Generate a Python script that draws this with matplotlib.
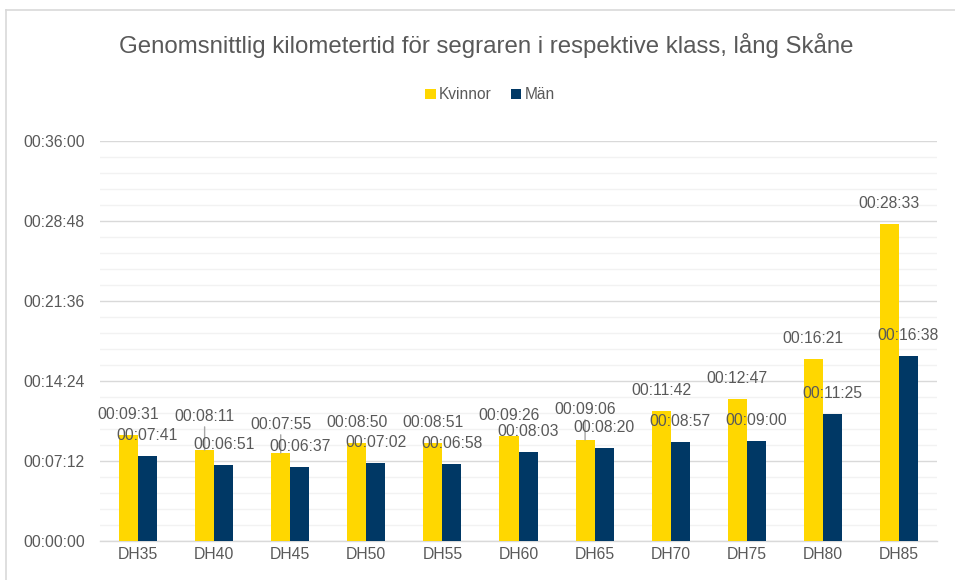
import numpy as np
import matplotlib
matplotlib.use("Agg")
import matplotlib.pyplot as plt
from matplotlib.ticker import MultipleLocator, FuncFormatter
from matplotlib.lines import Line2D

plt.rcParams['font.family'] = ['Liberation Sans', 'DejaVu Sans']

# data (times as mm:ss)
classes = ['DH35', 'DH40', 'DH45', 'DH50', 'DH55', 'DH60',
           'DH65', 'DH70', 'DH75', 'DH80', 'DH85']
kvinnor = ['09:31', '08:11', '07:55', '08:50', '08:51', '09:26',
           '09:06', '11:42', '12:47', '16:21', '28:33']
man = ['07:41', '06:51', '06:37', '07:02', '06:58', '08:03',
       '08:20', '08:57', '09:00', '11:25', '16:38']

# extra lift (px) for labels that were dragged in the original, with leader line
k_lift = [0, 13, 8, 0, 0, 0, 10, 0, 0, 0, 0]


def to_sec(s):
    m, sec = s.split(':')
    return int(m) * 60 + int(sec)


def fmt(v, pos=None):
    v = int(round(v))
    return '%02d:%02d:%02d' % (v // 3600, (v % 3600) // 60, v % 60)


k_sec = np.array([to_sec(s) for s in kvinnor])
m_sec = np.array([to_sec(s) for s in man])

YELLOW = '#FFD700'
NAVY = '#003865'
TXT = '#595959'

fig = plt.figure(figsize=(9.55, 5.8), dpi=100)
ax = fig.add_axes([100 / 955, 39 / 580, 837 / 955, 400 / 580])

x = np.arange(len(classes))
w = 0.25
bk = ax.bar(x - w / 2, k_sec, w, color=YELLOW, label='Kvinnor', zorder=3)
bm = ax.bar(x + w / 2, m_sec, w, color=NAVY, label='Män', zorder=3)

ax.set_xlim(-0.5, len(classes) - 0.5)
ax.set_ylim(0, 2160)
ax.yaxis.set_major_locator(MultipleLocator(432))
ax.yaxis.set_minor_locator(MultipleLocator(86.4))
ax.yaxis.set_major_formatter(FuncFormatter(fmt))
ax.grid(axis='y', which='major', color='#D9D9D9', lw=1.0, zorder=0)
ax.grid(axis='y', which='minor', color='#F2F2F2', lw=1.0, zorder=0)
ax.set_axisbelow(True)

ax.set_xticks(x)
ax.set_xticklabels(classes)
ax.tick_params(axis='both', which='both', length=0, labelsize=11.3, colors=TXT)
ax.tick_params(axis='y', pad=11)
ax.tick_params(axis='x', pad=4)
for sp in ['top', 'right', 'left']:
    ax.spines[sp].set_visible(False)
ax.spines['bottom'].set_color('#D9D9D9')
ax.spines['bottom'].set_linewidth(1.0)

px = 0.72  # points per pixel at 100 dpi
for i in range(len(classes)):
    kw = dict(textcoords='offset points', ha='center', va='center',
              fontsize=11.3, color=TXT, zorder=5)
    if k_lift[i]:
        kw['arrowprops'] = dict(arrowstyle='-', color='#A6A6A6', lw=1,
                                shrinkA=0, shrinkB=0)
    ax.annotate(fmt(k_sec[i]), xy=(x[i] - w / 2, k_sec[i]),
                xytext=(0, (20.5 + k_lift[i]) * px), **kw)
    ax.annotate(fmt(m_sec[i]), xy=(x[i] + w / 2, m_sec[i]),
                xytext=(0, 20.5 * px), textcoords='offset points',
                ha='center', va='center', fontsize=11.3, color=TXT, zorder=5)

fig.text(486 / 955, 1 - 45 / 580,
         'Genomsnittlig kilometertid för segraren i respektive klass, lång Skåne',
         ha='center', va='center', fontsize=17.3, color=TXT)

fig.legend(handles=[bk, bm], loc='center', bbox_to_anchor=(490 / 955, 1 - 95 / 580),
           ncol=2, frameon=False, fontsize=11.2, labelcolor=TXT,
           handlelength=0.7, handleheight=0.7, handletextpad=0.2, columnspacing=1.2)

# chart area border (partly visible in the original)
fig.add_artist(Line2D([6 / 955, 1], [1 - 10 / 580] * 2, transform=fig.transFigure,
                      color='#D9D9D9', lw=1.2))
fig.add_artist(Line2D([6 / 955] * 2, [0, 1 - 10 / 580], transform=fig.transFigure,
                      color='#D9D9D9', lw=1.2))

fig.savefig('out.png', dpi=100, facecolor='white')
